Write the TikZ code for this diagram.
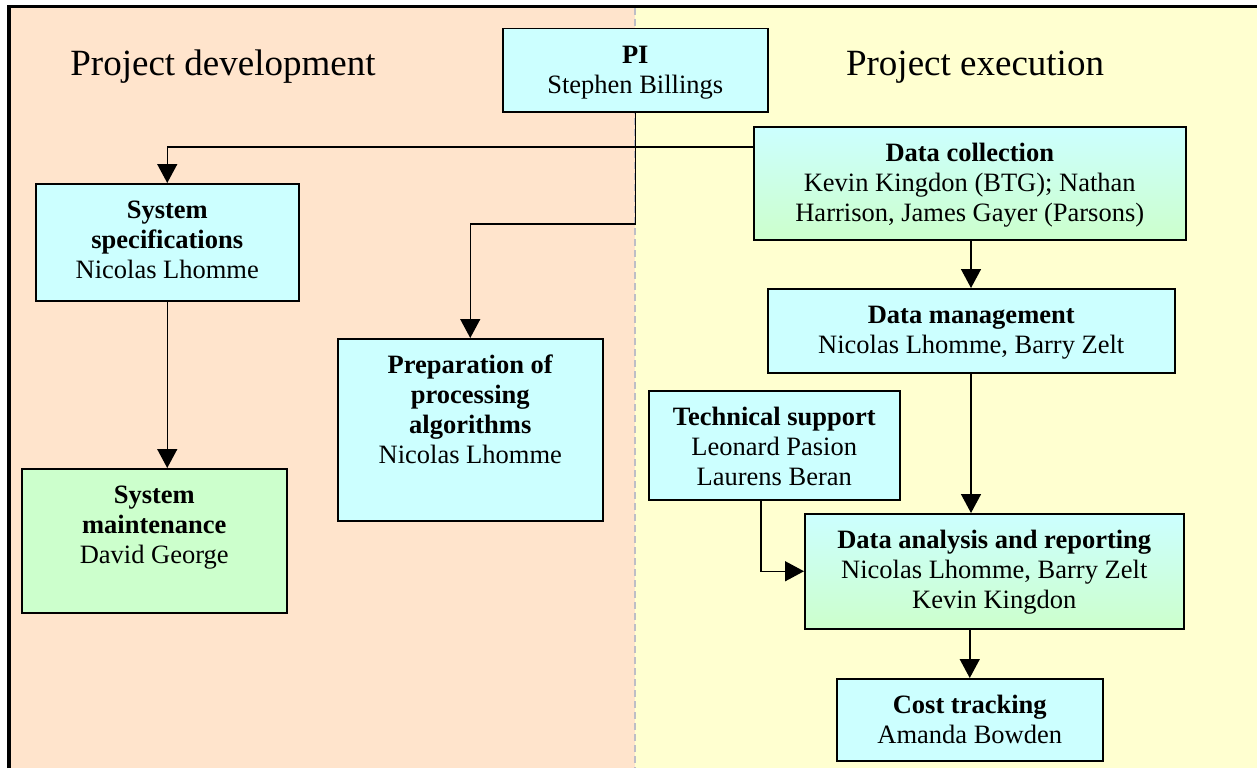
\documentclass[tikz,border=0pt]{standalone}
\usepackage{fontspec}
\setmainfont{Liberation Serif}
\usetikzlibrary{arrows.meta}
\definecolor{peach}{RGB}{255,228,204}
\definecolor{paleyellow}{RGB}{255,255,208}
\definecolor{boxcyan}{RGB}{204,255,255}
\definecolor{boxgreen}{RGB}{204,255,204}
\definecolor{divgray}{RGB}{190,190,198}
\tikzset{
  box/.style={draw=black, line width=1.5pt, fill=boxcyan, anchor=north west, inner sep=0pt},
  greenbox/.style={box, fill=boxgreen},
  gradbox/.style={box, top color=boxcyan, bottom color=boxgreen},
  label/.style={anchor=north, align=center, inner sep=0pt, font=\fontsize{26.5}{30}\selectfont},
  heading/.style={anchor=base, inner sep=0pt, font=\fontsize{37}{40}\selectfont},
  arr/.style={line width=1.5pt, -{Triangle[length=19pt,width=20pt]}},
  conn/.style={line width=1.5pt},
}
\begin{document}
\begin{tikzpicture}[x=1pt,y=-1pt]
\useasboundingbox (0,0) rectangle (1257,768);
% backgrounds
\fill[peach] (9,6) rectangle (635,768);
\fill[paleyellow] (635,6) rectangle (1257,768);
\draw[divgray, line width=1.5pt, dash pattern=on 7pt off 4pt] (635,8) -- (635,768);
\draw[black, line width=3.5pt] (9,768) -- (9,6.5) -- (1257,6.5);
% headings
\node[heading] (hdev) at (223,75) {Project development};
\node[heading] (hexe) at (975,75) {Project execution};
% boxes
\node[box, minimum width=265pt, minimum height=83pt] (pi) at (502,28) {};
\node[label] at ([yshift=-14pt]pi.north) {\strut\textbf{PI}\\Stephen Billings};

\node[box, minimum width=263pt, minimum height=117pt] (spec) at (35,183) {};
\node[label] at ([yshift=-14pt]spec.north) {\strut\textbf{System}\\\textbf{specifications}\\Nicolas Lhomme};

\node[greenbox, minimum width=265pt, minimum height=144pt] (maint) at (21,468) {};
\node[label] at ([yshift=-14pt]maint.north) {\strut\textbf{System}\\\textbf{maintenance}\\David George};

\node[box, minimum width=265pt, minimum height=182pt] (prep) at (337,338) {};
\node[label] at ([yshift=-14pt]prep.north) {\strut\textbf{Preparation of}\\\textbf{processing}\\\textbf{algorithms}\\Nicolas Lhomme};

\node[gradbox, minimum width=432pt, minimum height=113pt] (dc) at (753,126) {};
\node[label] at ([yshift=-14pt]dc.north) {\strut\textbf{Data collection}\\Kevin Kingdon (BTG); Nathan\\Harrison, James Gayer (Parsons)};

\node[box, minimum width=407pt, minimum height=84pt] (dm) at (767,288) {};
\node[label] at ([yshift=-14pt]dm.north) {\strut\textbf{Data management}\\Nicolas Lhomme, Barry Zelt};

\node[box, minimum width=251pt, minimum height=109pt] (ts) at (648,390) {};
\node[label] at ([yshift=-14pt]ts.north) {\strut\textbf{Technical support}\\Leonard Pasion\\Laurens Beran};

\node[gradbox, minimum width=379pt, minimum height=115pt] (da) at (804,513) {};
\node[label] at ([yshift=-14pt]da.north) {\strut\textbf{Data analysis and reporting}\\Nicolas Lhomme, Barry Zelt\\Kevin Kingdon};

\node[box, minimum width=266pt, minimum height=82pt] (cost) at (836,678) {};
\node[label] at ([yshift=-14pt]cost.north) {\strut\textbf{Cost tracking}\\Amanda Bowden};

% connectors
\coordinate (j1) at (pi.south |- 0,147);
\coordinate (j2) at (pi.south |- 0,224);
\draw[arr] (pi.south) -- (j2) -| (prep.north);
\draw[arr] (j1) -| (spec.north);
\draw[conn] (j1) -- (j1 -| dc.west);
\draw[arr] (spec.south) -- (spec.south |- maint.north);
\coordinate (dcout) at (971,239);
\draw[arr] (dcout) -- (dcout |- dm.north);
\coordinate (dmout) at (971,372);
\draw[arr] (dmout) -- (dmout |- da.north);
\coordinate (tsout) at (761,499);
\draw[arr] (tsout) |- (da.west);
\draw[arr] (da.south -| cost.north) -- (cost.north);
\end{tikzpicture}
\end{document}
